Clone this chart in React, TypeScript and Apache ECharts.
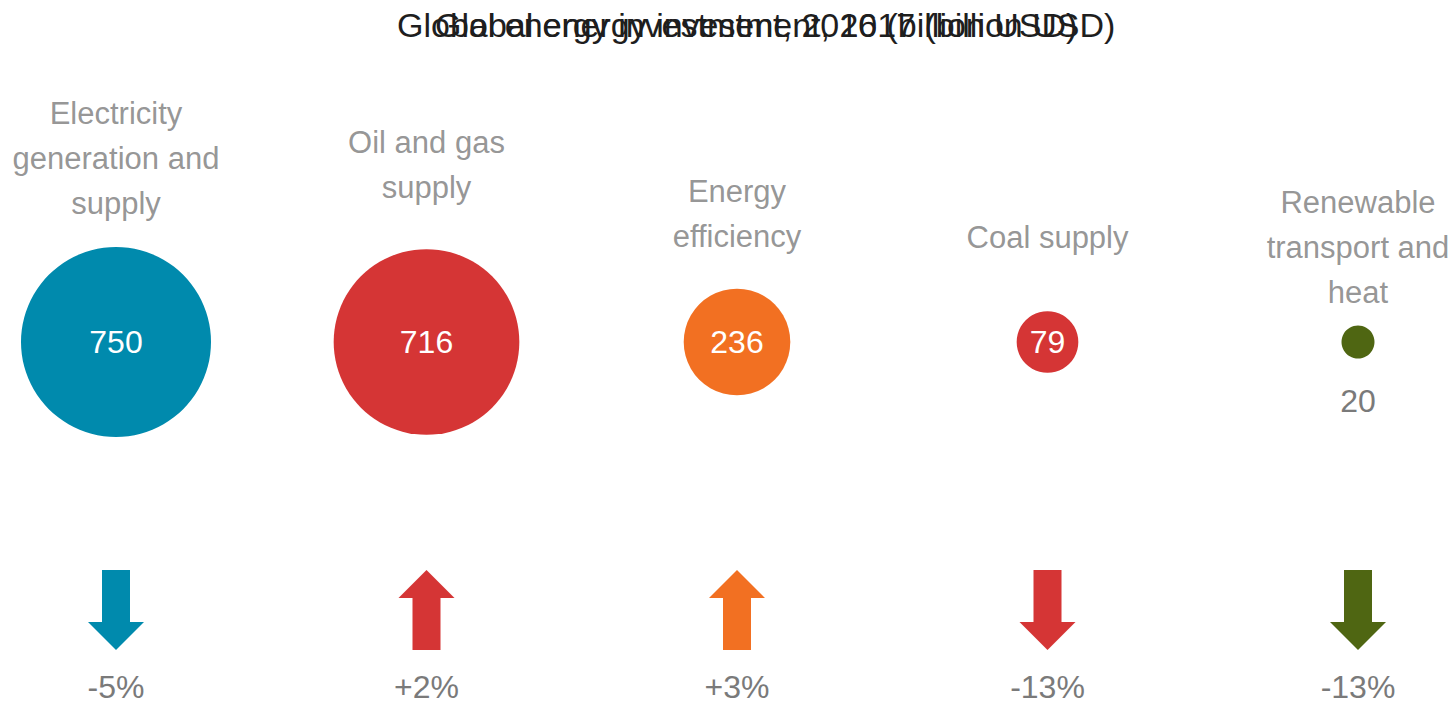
import React, { useEffect, useRef } from "react";
import * as echarts from "echarts";

const categories = [
  "Electricity\ngeneration and\nsupply",
  "Oil and gas\nsupply",
  "Energy\nefficiency",
  "Coal supply",
  "Renewable\ntransport and\nheat",
];
const investment2017 = [750, 716, 236, 79, 20];
const changeVs2016 = [-5, 2, 3, -13, -13];
const rowNames = ["Investment", "Change"];
const titleTexts = [
  "Global energy investment, 2016 (billion USD)",
  "Global energy investment, 2017 (billion USD)",
];

const colors = ["#008AAD", "#D53535", "#F27022", "#D53535", "#4F6612"];
const labelGaps = [21, 39, 30, 51, 11];
const GRAY = "#7A7A7A";
const FONT = "'Liberation Sans', Arial, sans-serif";
const TITLE_STYLE = { fontFamily: FONT, fontWeight: "normal", fontSize: 34, color: "#1E1E1E" };

const DOWN = "path://M14,0 L42,0 L42,52 L56,52 L28,80 L0,52 L14,52 Z";
const UP = "path://M28,0 L56,28 L42,28 L42,80 L14,80 L14,28 L0,28 Z";

const sizeOf = (v: number) => Math.max(190 * Math.sqrt(v / 750), 33);

export default function App() {
  const ref = useRef<HTMLDivElement>(null);
  useEffect(() => {
    if (!ref.current) return;
    const chart = echarts.init(ref.current, null, { renderer: "svg" });
    const option: any = {
      animation: false,
      backgroundColor: "#ffffff",
      title: [
        { text: titleTexts[0], left: 397, top: 8, padding: 0, textStyle: TITLE_STYLE },
        { text: titleTexts[1], left: 435, top: 8, padding: 0, textStyle: TITLE_STYLE },
      ],
      grid: { left: 116, right: 97, top: 342, height: 268, containLabel: false },
      xAxis: { type: "value", min: 0, max: 4, show: false },
      yAxis: { type: "category", data: rowNames, inverse: true, boundaryGap: false, show: false },
      series: [
        {
          type: "scatter",
          silent: true,
          data: investment2017.map((v, i) => ({
            value: [i, rowNames[0], v],
            symbolSize: sizeOf(v),
            itemStyle: { color: colors[i], opacity: 1 },
            label: {
              show: true,
              position: v < 50 ? "bottom" : "inside",
              distance: 26,
              color: v < 50 ? GRAY : "#ffffff",
              fontFamily: FONT,
              fontSize: 32,
              formatter: () => String(v),
            },
          })),
        },
        {
          type: "scatter",
          silent: true,
          data: investment2017.map((v, i) => ({
            value: [i, rowNames[0], v],
            symbolSize: sizeOf(v),
            itemStyle: { color: "rgba(0,0,0,0)" },
            label: {
              show: true,
              position: "top",
              distance: labelGaps[i],
              color: GRAY,
              fontFamily: FONT,
              fontSize: 31,
              lineHeight: 45,
              align: "center",
              formatter: () => categories[i],
            },
          })),
        },
        {
          type: "scatter",
          silent: true,
          data: changeVs2016.map((c, i) => ({
            value: [i, rowNames[1], c],
            symbol: c < 0 ? DOWN : UP,
            symbolSize: [56, 80],
            itemStyle: { color: colors[i], opacity: 1 },
            label: {
              show: true,
              position: "bottom",
              distance: 21,
              color: GRAY,
              fontFamily: FONT,
              fontSize: 32,
              formatter: () => (c > 0 ? "+" : "") + c + "%",
            },
          })),
        },
      ],
    };
    chart.setOption(option);
    return () => chart.dispose();
  }, []);
  return (
    <div
      ref={ref}
      style={{ position: "fixed", left: 0, top: 0, width: 1455, height: 704 }}
    />
  );
}
